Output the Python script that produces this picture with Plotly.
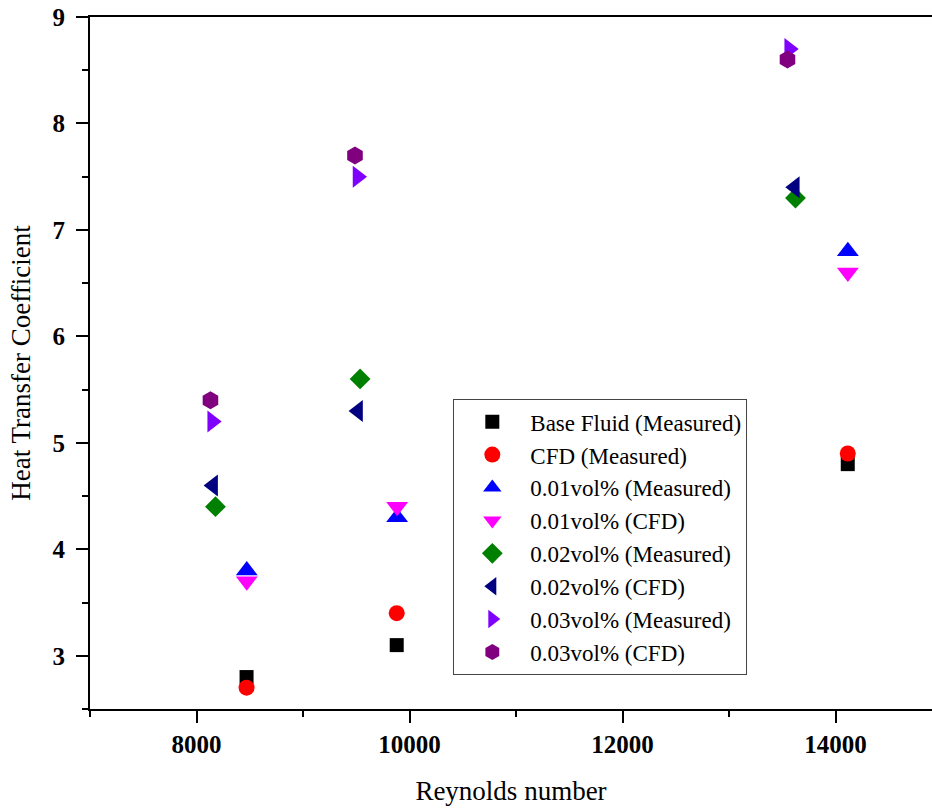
import plotly.graph_objects as go

# Reynolds numbers per series
re_base = [8470, 9880, 14115]
re_cfd = [8470, 9880, 14115]
re_01m = [8472, 9884, 14116]
re_01c = [8472, 9884, 14116]
re_02m = [8178, 9536, 13624]
re_02c = [8156, 9517, 13618]
re_03m = [8147, 9512, 13565]
re_03c = [8131, 9488, 13549]

# Heat transfer coefficients
h_base = [2.8, 3.1, 4.8]
h_cfd = [2.7, 3.4, 4.9]
h_01m = [3.8, 4.3, 6.8]
h_01c = [3.7, 4.4, 6.6]
h_02m = [4.4, 5.6, 7.3]
h_02c = [4.6, 5.3, 7.4]
h_03m = [5.2, 7.5, 8.7]
h_03c = [5.4, 7.7, 8.6]

series = [
    ("Base Fluid (Measured)", re_base, h_base, "square", "#000000", 14),
    ("CFD (Measured)", re_cfd, h_cfd, "circle", "#FF0000", 16),
    ("0.01vol% (Measured)", re_01m, h_01m, "triangle-up", "#0000FF", 19),
    ("0.01vol% (CFD)", re_01c, h_01c, "triangle-down", "#FF00FF", 19),
    ("0.02vol% (Measured)", re_02m, h_02m, "diamond", "#008000", 16),
    ("0.02vol% (CFD)", re_02c, h_02c, "triangle-left", "#000080", 19),
    ("0.03vol% (Measured)", re_03m, h_03m, "triangle-right", "#8000FF", 19),
    ("0.03vol% (CFD)", re_03c, h_03c, "hexagon", "#800080", 18),
]

fig = go.Figure()
for name, xs, ys, sym, col, sz in series:
    fig.add_trace(go.Scatter(
        x=xs, y=ys, mode="markers", name=name,
        marker=dict(symbol=sym, color=col, size=sz, line=dict(width=0)),
    ))

font_family = "Liberation Serif, Times New Roman, serif"

fig.update_layout(
    width=932, height=808,
    margin=dict(l=90, r=0, t=17, b=99, autoexpand=False),
    paper_bgcolor="white", plot_bgcolor="white",
    font=dict(family=font_family, color="black"),
    showlegend=True,
    legend=dict(
        x=0.4315, y=0.4476, xanchor="left", yanchor="top",
        bordercolor="#444444", borderwidth=1, bgcolor="white",
        font=dict(family=font_family, size=23, color="black"),
        itemwidth=66, tracegroupgap=0,
    ),
)

fig.update_xaxes(
    range=[7000, 14906],
    tickmode="linear", tick0=8000, dtick=2000, tickformat="d",
    ticks="outside", ticklen=12, tickwidth=2, tickcolor="black",
    minor=dict(ticks="outside", ticklen=6, tickwidth=2, tickcolor="black", dtick=1000, tick0=7000),
    showline=True, linewidth=2, linecolor="black", mirror=True,
    showgrid=False, zeroline=False, ticklabeloverflow="allow",
    tickfont=dict(family=font_family, size=25, color="black", weight="bold"),
    title=dict(text="Reynolds number", font=dict(family=font_family, size=27, color="black"), standoff=24),
)
fig.update_yaxes(
    range=[2.5, 9],
    tickmode="linear", tick0=3, dtick=1,
    ticks="outside", ticklen=12, tickwidth=2, tickcolor="black",
    minor=dict(ticks="outside", ticklen=6, tickwidth=2, tickcolor="black", dtick=0.5, tick0=2.5),
    showline=True, linewidth=2, linecolor="black", mirror=False,
    showgrid=False, zeroline=False, ticklabeloverflow="allow",
    ticklabelstandoff=6,
    tickfont=dict(family=font_family, size=25, color="black", weight="bold"),
    title=dict(text="Heat Transfer Coefficient", font=dict(family=font_family, size=27, color="black"), standoff=14),
)

fig.write_html(
    "out.html",
    config={"displayModeBar": False},
    post_script="document.body.style.margin='0';document.body.style.overflow='hidden';",
)
